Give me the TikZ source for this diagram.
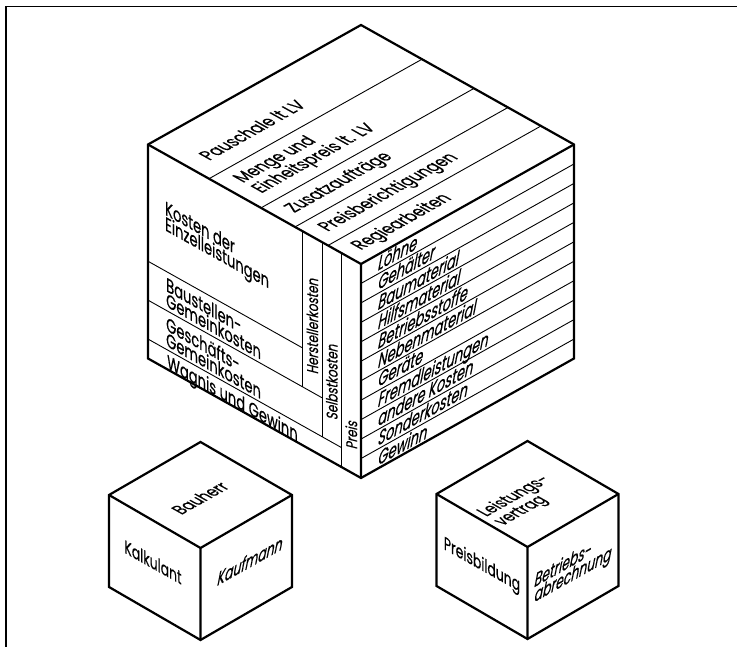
\documentclass[tikz,border=0pt]{standalone}
\usepackage{fontspec}
\setmainfont{Poppins}[FakeStretch=0.77,FakeBold=0.4]
\newfontfamily\slfont{Poppins}[FakeStretch=0.77,FakeSlant=0.25,FakeBold=0.4]

\begin{document}
\begin{tikzpicture}[x=1pt, y=1pt,
  edge/.style={line width=2.2pt, line join=miter},
  divider/.style={line width=0.9pt},
  border/.style={line width=1.4pt},
  facetext/.style={inner sep=0pt, align=left, font=\fontsize{19.5}{15.5}\selectfont},
  lefttext/.style={facetext, cm={0.8722,-0.4893,0,1,(0,0)}},
  righttext/.style={facetext, cm={0.8722,0.4893,0,1,(0,0)}, font=\slfont\fontsize{19.5}{15.5}\selectfont},
  toptext/.style={facetext, cm={0.8722,0.4893,-0.8722,0.4893,(0,0)}},
  coltext/.style={inner sep=0pt, rotate=90, font=\slfont\fontsize{15.5}{15}\selectfont},
  small/.style={font=\fontsize{18.5}{15}\selectfont},
  smallit/.style={font=\slfont\fontsize{18.5}{15}\selectfont}
]
\useasboundingbox (0,0) rectangle (737,647);
\draw[border] (6,0) |- (737,640.5);

% big cube
\def\rowh{19.4545}
\coordinate (Fb) at (361,169);
\coordinate (Ft) at (361,383);
\coordinate (Lb) at (148,288.5);
\coordinate (Lt) at (148,502.5);
\coordinate (Rb) at (574,288.5);
\coordinate (Rt) at (574,502.5);
\coordinate (T) at (361,622);

% left face: cost groups
\begin{scope}[shift={(Fb)}, x={(-1pt,0.561pt)}, y={(0pt,1pt)}]
  \draw[divider] (\rowh,214) -- (\rowh,0);
  \draw[divider] (2*\rowh,214) -- (2*\rowh,\rowh);
  \draw[divider] (3*\rowh,214) -- (3*\rowh,3*\rowh);
  \draw[divider] (\rowh,\rowh) -- (213,\rowh);
  \draw[divider] (2*\rowh,3*\rowh) -- (213,3*\rowh);
  \draw[divider] (3*\rowh,5*\rowh) -- (213,5*\rowh);
  \node[lefttext, anchor=north west] (einzel) at (196,168) {Kosten der\\Einzelleistungen};
  \node[lefttext, anchor=north west] (baust) at (195,5*\rowh-5) {Baustellen-\\Gemeinkosten};
  \node[lefttext, anchor=north west] (gesch) at (195,3*\rowh-5) {Geschäfts-\\Gemeinkosten};
  \node[lefttext, anchor=north west] (wagnis) at (194,\rowh-3.5) {Wagnis und Gewinn};
  \node[coltext] (herst) at (2.5*\rowh,124) {Herstellerkosten};
  \node[coltext] (selbst) at (1.5*\rowh,79) {Selbstkosten};
  \node[coltext] (preis) at (0.5*\rowh,37) {Preis};
\end{scope}

% right face: cost types
\begin{scope}[shift={(Fb)}, x={(1pt,0.561pt)}, y={(0pt,1pt)}]
  \foreach \k in {1,...,10}
    \draw[divider] (0,\k*\rowh) -- (213,\k*\rowh);
  \foreach \lbl [count=\i from 0] in {Löhne, Gehälter, Baumaterial, Hilfsmaterial,
      Betriebsstoffe, Nebenmaterial, Geräte, Fremdleistungen, andere Kosten,
      Sonderkosten, Gewinn}
    \node[righttext, anchor=north west] (item\i) at (16,214-\i*\rowh-1.5) {\lbl};
\end{scope}

% top face: contract parts
\begin{scope}[shift={(Ft)}, x={(1pt,0.561pt)}, y={(-1pt,0.561pt)}]
  \foreach \q in {33,66,100,152}
    \draw[divider] (0,\q) -- (213,\q);
  \node[toptext, anchor=west] (pausch) at (16,174) {Pauschale lt LV};
  \node[toptext, anchor=west] (menge) at (13,126) {Menge und\\Einheitspreis lt. LV};
  \node[toptext, anchor=west] (zusatz) at (12,83) {Zusatzaufträge};
  \node[toptext, anchor=west] (berichtig) at (12,49.5) {Preisberichtigungen};
  \node[toptext, anchor=west] (regie) at (12,16.5) {Regiearbeiten};
\end{scope}

\draw[edge] (Lt) -- (T) -- (Rt) -- (Rb) -- (Fb) -- (Lb) -- cycle;
\draw[edge] (Lt) -- (Ft) -- (Rt) (Ft) -- (Fb);

% small cube: roles
\coordinate (aFb) at (200.5,7);
\coordinate (aFt) at (200.5,99);
\coordinate (aLb) at (109,60);
\coordinate (aLt) at (109,152);
\coordinate (aRb) at (292,60);
\coordinate (aRt) at (292,152);
\coordinate (aT) at (200.5,205);
\draw[edge] (aLt) -- (aT) -- (aRt) -- (aRb) -- (aFb) -- (aLb) -- cycle;
\draw[edge] (aLt) -- (aFt) -- (aRt) (aFt) -- (aFb);
\node[toptext, small, anchor=center] (bauherr) at (200,149) {Bauherr};
\node[lefttext, small, anchor=center] (kalk) at (153,85) {Kalkulant};
\node[righttext, smallit, anchor=center] (kaufm) at (249,86) {Kaufmann};

% small cube: tasks
\coordinate (bFb) at (527.5,8);
\coordinate (bFt) at (527.5,100);
\coordinate (bLb) at (436.5,61);
\coordinate (bLt) at (436.5,153);
\coordinate (bRb) at (618.5,61);
\coordinate (bRt) at (618.5,153);
\coordinate (bT) at (527.5,206);
\draw[edge] (bLt) -- (bT) -- (bRt) -- (bRb) -- (bFb) -- (bLb) -- cycle;
\draw[edge] (bLt) -- (bFt) -- (bRt) (bFt) -- (bFb);
\node[toptext, small, anchor=center] (vertrag) at (523,146) {Leistungs-\\vertrag};
\node[lefttext, small, anchor=center] (preisb) at (482,81) {Preisbildung};
\node[righttext, smallit, anchor=center] (abrechn) at (572,78) {Betriebs-\\abrechnung};
\end{tikzpicture}
\end{document}
